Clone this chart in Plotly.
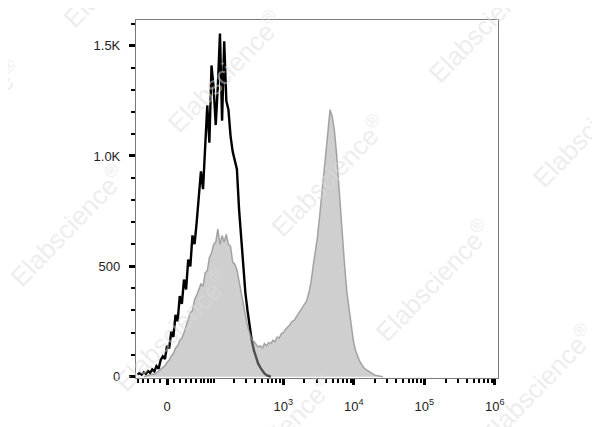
import numpy as np
import plotly.graph_objects as go

# ---------------- data (display units: biexponential decades) ----------------
BIN_STEP = 0.03
CONTROL_START = -0.42
STAINED_START = -0.33

control_counts = [10, 16, 9, 20, 13, 26, 17, 33, 24, 48, 36, 76, 92, 80, 140, 128,
                  205, 180, 280, 250, 365, 330, 440, 395, 530, 500, 640, 600, 700, 820,
                  930, 850, 1030, 1230, 1060, 1410, 1310, 1140, 1320, 1555, 1160, 1520,
                  1250, 1210, 1090, 1020, 980, 940, 760, 620, 480, 380, 300, 225, 165,
                  120, 85, 60, 42, 28, 15, 7, 2, 0]

stained_counts = [0, 3, 6, 8, 12, 10, 18, 22, 30, 40, 50, 65, 75, 95, 105, 130, 140,
                  165, 175, 200, 230, 250, 290, 300, 350, 370, 395, 420, 410, 470, 480,
                  540, 560, 600, 610, 670, 600, 640, 610, 645, 600, 590, 520, 510, 485,
                  430, 380, 330, 270, 230, 200, 170, 160, 145, 135, 140, 130, 150, 140,
                  155, 150, 165, 160, 180, 175, 195, 200, 215, 225, 235, 250, 255, 270,
                  285, 300, 315, 330, 345, 380, 430, 500, 560, 630, 720, 820, 920, 1020,
                  1110, 1210, 1180, 1120, 1020, 880, 740, 610, 490, 380, 300, 220, 165,
                  120, 90, 70, 55, 40, 32, 25, 18, 12, 8, 5, 3, 1, 0]

x_major_values = [0, 1e3, 1e4, 1e5, 1e6]
x_major_labels = ["0", "10<sup>3</sup>", "10<sup>4</sup>", "10<sup>5</sup>", "10<sup>6</sup>"]
x_minor_values = ([-50, -40, -30, -20, -10] + list(range(10, 100, 10))
                  + [m * 10 ** k for k in (2, 3, 4, 5) for m in range(1, 10)])

y_major_values = [0, 500, 1000, 1500]
y_major_labels = ["0", "500", "1.0K", "1.5K"]
y_minor_values = [v for v in range(100, 1601, 100) if v % 500]

WIDTH_BASIS = 45.2


def biex(v):
    return np.arcsinh(np.asarray(v, dtype=float) / WIDTH_BASIS) / np.log(10)


x_control = CONTROL_START + BIN_STEP * np.arange(len(control_counts))
x_stained = STAINED_START + BIN_STEP * np.arange(len(stained_counts))

fig = go.Figure()
fig.add_trace(go.Scatter(x=x_control, y=control_counts, mode="lines",
                         line=dict(color="black", width=2.4), hoverinfo="skip",
                         showlegend=False))
fig.add_trace(go.Scatter(x=x_stained, y=stained_counts, mode="lines", fill="tozeroy",
                         fillcolor="rgba(160,160,160,0.5)",
                         line=dict(color="rgba(140,140,140,0.75)", width=1.5),
                         hoverinfo="skip", showlegend=False))

font = dict(family="Arial, Liberation Sans, sans-serif", size=13, color="#222")

fig.update_xaxes(range=[-0.44, 4.69], showgrid=False, zeroline=False,
                 showline=True, linecolor="#7a7a7a", linewidth=1.2, mirror=True,
                 tickmode="array", tickvals=biex(x_major_values).tolist(),
                 ticktext=x_major_labels, ticks="outside", ticklen=6, tickwidth=3,
                 tickcolor="black", tickfont=font, ticklabelstandoff=10,
                 minor=dict(tickmode="array", tickvals=biex(x_minor_values).tolist(),
                            ticks="outside", ticklen=4, tickwidth=1.6,
                            tickcolor="black", showgrid=False))
fig.update_yaxes(range=[-6, 1616], showgrid=False, zeroline=False,
                 showline=True, linecolor="#7a7a7a", linewidth=1.2, mirror=True,
                 tickmode="array", tickvals=y_major_values, ticktext=y_major_labels,
                 ticks="outside", ticklen=6, tickwidth=3, tickcolor="black",
                 tickfont=font, ticklabelstandoff=6,
                 minor=dict(tickmode="array", tickvals=y_minor_values,
                            ticks="outside", ticklen=4, tickwidth=1.6,
                            tickcolor="black", showgrid=False))

# page offset of the figure inside the browser page
OFF = 8
L, T, W, H = 136 - OFF, 18.3 - OFF, 361.7, 359.7
wm_centres = [(121, -35), (225, 70), (329, 175), (433, 280), (537, 385),
              (-36, 120), (68, 225), (172, 330), (276, 435), (486, 20), (590, 125)]
for (px, py) in wm_centres:
    fig.add_annotation(text="Elabscience<sup>®</sup>", xref="paper", yref="paper",
                       x=(px - OFF - L) / W, y=(T + H - (py - OFF)) / H,
                       xanchor="center", yanchor="middle", showarrow=False,
                       textangle=-46,
                       font=dict(family="Arial, Liberation Sans, sans-serif", size=26,
                                 color="rgba(220,220,220,0.5)"))

fig.update_layout(width=600, height=427, paper_bgcolor="white", plot_bgcolor="white",
                  margin=dict(l=L, r=600 - L - W, t=T, b=427 - T - H))
fig.write_html("out.html")
